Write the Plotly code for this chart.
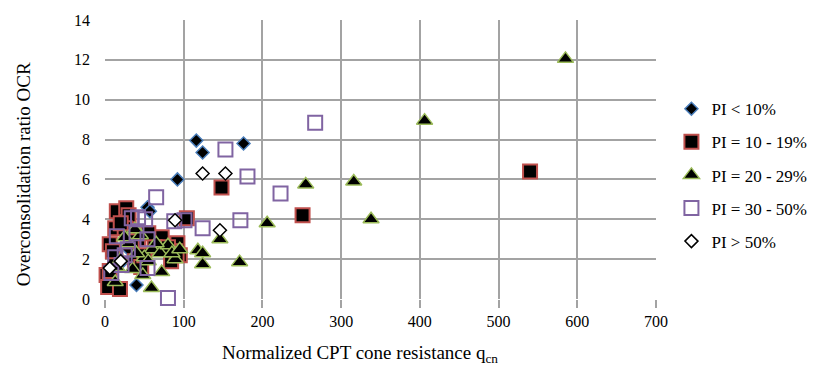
import plotly.graph_objects as go

# ---- data ----
pi_lt10_x = [116, 124, 176, 92, 54, 57, 40, 30, 45, 20]
pi_lt10_y = [7.95, 7.35, 7.8, 6.0, 4.6, 4.4, 0.7, 2.5, 3.2, 1.8]

pi_10_19_x = [540, 251, 148, 104, 15, 27, 30, 13, 6, 2, 4, 19, 6, 92, 89, 72, 42, 63, 38, 25,
              46, 34, 84, 13, 95, 80, 55, 20, 10, 50, 91]
pi_10_19_y = [6.4, 4.2, 5.6, 4.05, 4.4, 4.55, 4.2, 3.55, 2.75, 1.2, 0.6, 0.5, 1.4, 2.8, 2.4, 3.1,
              3.0, 2.6, 1.9, 3.55, 1.6, 2.9, 1.9, 2.1, 2.2, 2.6, 3.3, 3.8, 2.4, 2.2, 2.25]

pi_20_29_x = [585, 406, 255, 316, 338, 206, 146, 118, 124, 124, 171, 59, 72, 13, 89, 30, 45, 60,
              20, 35, 50, 70, 80, 25, 40, 55, 65, 15, 85, 95, 38, 48]
pi_20_29_y = [12.05, 8.95, 5.75, 5.9, 4.0, 3.8, 3.0, 2.45, 2.3, 1.75, 1.85, 0.55, 1.35, 0.85, 2.0,
              2.8, 3.2, 2.5, 2.0, 1.5, 2.1, 2.3, 2.7, 3.1, 2.3, 1.9, 2.8, 1.6, 2.3, 2.5, 3.5, 1.2]

pi_30_50_x = [267, 153, 181, 65, 172, 124, 223, 80, 88, 101, 34, 51, 42, 15, 13, 54, 29, 21, 8,
              54, 40, 25]
pi_30_50_y = [8.85, 7.5, 6.15, 5.1, 3.95, 3.55, 5.3, 0.05, 3.9, 3.95, 4.05, 4.0, 4.1, 3.15, 2.1,
              1.55, 2.5, 1.7, 1.3, 3.0, 3.3, 2.2]

pi_gt50_x = [124, 153, 146, 89, 6, 20]
pi_gt50_y = [6.3, 6.3, 3.45, 3.95, 1.55, 1.9]

series_names = ["PI < 10%", "PI = 10 - 19%", "PI = 20 - 29%", "PI = 30 - 50%", "PI > 50%"]
x_ticks = [0, 100, 200, 300, 400, 500, 600, 700]
y_ticks = [0, 2, 4, 6, 8, 10, 12, 14]

FONT = "Liberation Serif, Times New Roman, serif"
GRID = "#a3a3a3"

fig = go.Figure()

styles = [
    dict(symbol="diamond", size=10, color="black", line=dict(color="#4a7ebb", width=1.5)),
    dict(symbol="square", size=14, color="black", line=dict(color="#c0504d", width=2)),
    dict(symbol="triangle-up", size=14, color="black", line=dict(color="#9bbb59", width=1.5)),
    dict(symbol="square-open", size=14, color="#8064a2", line=dict(color="#8064a2", width=2)),
    dict(symbol="diamond", size=10, color="white", line=dict(color="black", width=1.5)),
]
data = [(pi_lt10_x, pi_lt10_y), (pi_10_19_x, pi_10_19_y), (pi_20_29_x, pi_20_29_y),
        (pi_30_50_x, pi_30_50_y), (pi_gt50_x, pi_gt50_y)]

for i, ((xs, ys), name, st) in enumerate(zip(data, series_names, styles)):
    fig.add_trace(go.Scatter(x=xs, y=ys, mode="markers", name=name, marker=st,
                             cliponaxis=False, legendgroup=str(i)))

fig.update_layout(
    width=839, height=379,
    margin=dict(l=105, r=183, t=15, b=80),
    paper_bgcolor="white", plot_bgcolor="white",
    font=dict(family=FONT, color="black", size=16),
    showlegend=True,
    legend=dict(x=1.028, xanchor="left", y=0.745, yanchor="top",
                font=dict(family=FONT, size=17, color="black"),
                tracegroupgap=8, itemwidth=30, bgcolor="rgba(0,0,0,0)",
                traceorder="grouped"),
    xaxis=dict(range=[0, 700], tickvals=x_ticks, ticktext=[str(v) for v in x_ticks],
               showgrid=True, gridcolor=GRID, gridwidth=1.5, zeroline=False, showline=False,
               ticks="outside", ticklen=8, tickcolor=GRID, tickwidth=1.5,
               tickfont=dict(family=FONT, size=16, color="black")),
    yaxis=dict(range=[0, 14], tickvals=y_ticks, ticktext=[str(v) for v in y_ticks],
               showgrid=True, gridcolor=GRID, gridwidth=1.5,
               zeroline=True, zerolinecolor="rgba(0,0,0,0)", showline=False,
               ticks="", ticklabelstandoff=14,
               tickfont=dict(family=FONT, size=16, color="black")),
    annotations=[
        dict(text="Normalized CPT cone resistance q<sub>cn</sub>", xref="paper", yref="paper",
             x=0.463, y=-0.197, xanchor="center", yanchor="middle", showarrow=False,
             font=dict(family=FONT, size=19, color="black")),
        dict(text="Overconsolidation ratio OCR", xref="paper", yref="paper",
             x=-0.149, y=0.447, xanchor="center", yanchor="middle", showarrow=False,
             textangle=-90, font=dict(family=FONT, size=19, color="black")),
    ],
)

fig.write_html("out.html")
